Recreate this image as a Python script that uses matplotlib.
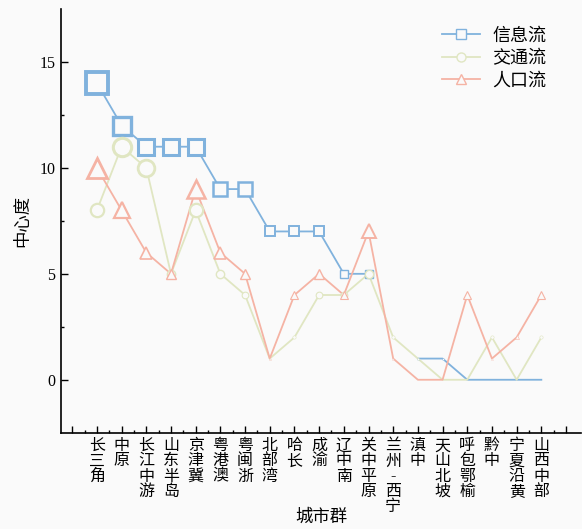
import numpy as np
import matplotlib
matplotlib.use('Agg')
import matplotlib.pyplot as plt
from matplotlib.lines import Line2D

plt.rcParams['font.family'] = ['Liberation Serif', 'Noto Sans CJK SC']

cities = ['长三角', '中原', '长江中游', '山东半岛', '京津冀', '粤港澳', '粤闽浙',
          '北部湾', '哈长', '成渝', '辽中南', '关中平原', '兰州-西宁', '滇中',
          '天山北坡', '呼包鄂榆', '黔中', '宁夏沿黄', '山西中部']
info_flow = [14, 12, 11, 11, 11, 9, 9, 7, 7, 7, 5, 5, np.nan, 1, 1, 0, 0, 0, 0]
traffic_flow = [8, 11, 10, 5, 8, 5, 4, 1, 2, 4, 4, 5, 2, 1, 0, 0, 2, 0, 2]
people_flow = [10, 8, 6, 5, 9, 6, 5, 1, 4, 5, 4, 7, 1, 0, 0, 4, 1, 2, 4]

series = [
    ('信息流', info_flow, '#80b2dd', 's', 1.1),
    ('交通流', traffic_flow, '#e0e6c2', 'o', 1.2),
    ('人口流', people_flow, '#f5b3a4', '^', 1.45),
]

bg = '#fafafa'
fig = plt.figure(figsize=(5.82, 5.29), dpi=100, facecolor=bg)
ax = fig.add_axes([0.105, 0.182, 0.893, 0.801])
ax.set_facecolor(bg)

x = np.arange(1, len(cities) + 1)
handles = []
for name, vals, color, mk, k in series:
    vals = np.array(vals, dtype=float)
    ax.plot(x, vals, color=color, lw=1.3, zorder=2)
    for xi, v in zip(x, vals):
        if np.isnan(v) or v <= 0:
            continue
        ax.plot(xi, v, marker=mk, ms=k * v, mew=0.2 * v, mec=color,
                mfc=bg, zorder=3)
    handles.append(Line2D([], [], color=color, lw=1.3, marker=mk, ms=6.5,
                          mew=1.0, mec=color, mfc=bg, label=name))

ax.set_xlim(-0.45, 20.6)
ax.set_ylim(-2.5, 17.5)
ax.set_xticks(range(0, 21))
ax.set_xticklabels([''] + ['\n'.join(c) for c in cities] + [''],
                   fontsize=11.5, linespacing=0.93, va='top')
ax.set_xticks(np.arange(0.5, 20, 1), minor=True)
ax.set_yticks([0, 5, 10, 15])
ax.set_yticks([2.5, 7.5, 12.5], minor=True)
ax.tick_params(axis='y', labelsize=11.5)
ax.tick_params(which='major', direction='in', length=5, width=1, pad=4)
ax.tick_params(which='minor', direction='in', length=2.5, width=1)

for s in ['top', 'right']:
    ax.spines[s].set_visible(False)
for s in ['left', 'bottom']:
    ax.spines[s].set_linewidth(1.2)

ax.set_xlabel('城市群', fontsize=12.5, va='center')
ax.xaxis.set_label_coords(0.5, -0.2)
ax.set_ylabel('中心度', fontsize=12.5, labelpad=6)

ax.legend(handles=handles, loc='upper right', bbox_to_anchor=(0.965, 0.995),
          frameon=False, fontsize=13, handlelength=2.1, labelspacing=0.3,
          handletextpad=0.7)

fig.savefig('out.png', dpi=100, facecolor=bg)
